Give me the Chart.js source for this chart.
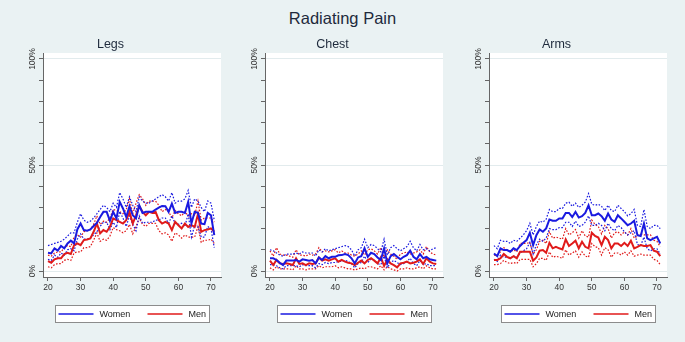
<!DOCTYPE html>
<html><head><meta charset="utf-8">
<script src="https://cdn.jsdelivr.net/npm/chart.js@4.4.0/dist/chart.umd.min.js"></script>
<style>
html,body{margin:0;padding:0;background:#eaf2f3;}
body{width:685px;height:342px;position:relative;overflow:hidden;font-family:"Liberation Sans",Arial,sans-serif;}
#title{position:absolute;left:0;top:8px;width:685px;text-align:center;font-size:16.5px;color:#1e2a3c;line-height:20px;}
.panel{position:absolute;top:0;width:226px;height:342px;}
</style></head><body>
<div id="title">Radiating Pain</div>
<div class="panel" style="left:0px"><canvas id="c0" width="226" height="342"></canvas></div>
<div class="panel" style="left:222px"><canvas id="c1" width="226" height="342"></canvas></div>
<div class="panel" style="left:446px"><canvas id="c2" width="226" height="342"></canvas></div>
<script>
const ages = [20,21,22,23,24,25,26,27,28,29,30,31,32,33,34,35,36,37,38,39,40,41,42,43,44,45,46,47,48,49,50,51,52,53,54,55,56,57,58,59,60,61,62,63,64,65,66,67,68,69,70,71];
const panelTitles = ['Legs','Chest','Arms'];
const seriesLabels = ['Women','Men'];
const xTickValues = [20,30,40,50,60,70];
const yTickValues = [0,10,20,30,40,50,60,70,80,90,100];
const yLabelValues = [0,50,100];

const legsWomen   = [8.6,8.3,10.7,9.6,11.8,10.7,13,14.3,13,19.6, 22.4,19.3,19,19.6,21.2,22.7,25.5,27.9,27.9,23.7, 27.9,24.8,32.6,29.5,25.5,30.6,26.3,24.8,31,27.4, 27.9,27.9,27.9,29,29.9,30.7,30.6,27.9,31.8,27.4, 27.9,27.9,27.4,32.6,22.4,27.9,27.4,22.4,22.1,27.4, 26.3,16.9];
const legsWomenHi = [12,12.5,13,13.5,14,15,16.5,18,18,23, 27,24,23,23.5,25,27,29,31,30,28, 32,30,37,34,30,35,31,28,35,33, 32,32,33,34,35,36,35,33,37,32, 33,33,34,38,30,34,33,30,28,33, 32,24];
const legsWomenLo = [5.5,5,7.5,6.5,8.5,7.5,10,10.5,9.5,15, 17.5,15,15,15.5,17,18.5,21,23,23,19.5, 23,20.5,28,25,21,26,22,19,26,22.5, 23,23,23,24,24,25,25,22.5,26,22.5, 22,22.5,21,27,16,21.5,21,16,16,21, 20,11];
const legsMen     = [4.7,3.9,5.5,6,6,8,8.6,8,12.2,13, 12.2,14.6,14.9,15.4,18.5,22.4,17.7,19.3,18.5,20.8, 24.8,24,23.2,22.4,24,27.9,22.4,26.3,30.6,27.9, 26.3,27.9,27.4,27.9,24,22.4,23.2,22.4,19.3,23.2, 21.6,20.1,22.4,20.8,21.6,20.8,26.8,18.5,19.3,19.6, 20.1,18.5];
const legsMenHi   = [7.5,7,8.5,9,9,11,12,11.5,16,17, 16,18.5,19,19.5,22,26,22,23.5,23,25, 29,28.5,28,27,29,34,27,32,36,34, 31,33,33,33,31,28,29,28,25,28.5, 27,26,28,26,27,26,33,24,25,25, 25,23];
const legsMenLo   = [2,1.5,3,3.5,3.5,5,5.5,5,8.5,9, 9,11,11,11.5,14.5,18,14,15,14.5,16.5, 20.5,19.5,19,18,19,22,17.5,21,25,22, 21,22.5,22.5,22.5,19,17.5,18,17,14,18, 17,15.5,17,16,16,16,21,13.5,14.5,14.5, 15,13];

const chestWomen   = [6,6,5.2,3.9,2.8,4.9,4.9,4.9,5.2,4.4, 5.5,5.2,4.9,5.2,3.6,6.4,5.2,7,6,6.7, 6.7,7.4,7.5,8,7.5,6,3.6,6.4,7,10.7, 6.7,8.6,8,6.4,5.2,10.7,3.6,7,8,6.7, 5.5,6.7,7.5,9.6,6.7,5.5,8,6,6.7,5.5, 5.2,4.9];
const chestWomenHi = [10,9.5,8.5,7.5,7,8,8,8,8.5,8, 9,8.5,8.5,8.5,7,10,9,10.5,9.5,10, 10.5,11,11.5,12,11.5,10,7,10,11,15, 11,12.5,12,10.5,9,15,7.5,11,12,10.5, 9.5,10.5,11.5,14,11,9.5,12.5,10,10.5,9.5, 10.5,11];
const chestWomenLo = [3,3,2.5,1.5,1,2.5,2.5,2.5,2.5,2, 3,2.5,2.5,2.5,1.5,3.5,3,4,3.5,4, 4,4.5,4.5,5,4.5,3.5,1.5,3.5,4,7, 4,5.5,5,3.5,3,7,1.5,4,5,4, 3,3.5,4.5,6,3.5,2.5,5,3,3.5,2.5, 2.5,2.5];
const chestMen     = [4.9,2.8,5.2,3.6,3.3,3.6,3.3,2.8,6,3.3, 3.6,2.8,3.6,3.3,3.6,6.4,4.9,5.5,4.9,5.5, 6,4.4,5.2,4.4,3.9,3.6,2.8,3.9,4.9,3.6, 5.2,6,4.9,3.6,6.4,2.4,5.5,3.6,2.8,1.7, 3.6,3.9,4.4,3.6,3.9,4.4,5.5,3.3,6,4.4, 3.6,3.3];
const chestMenHi   = [9.5,7,11,8,7.5,7.5,7,6.5,10,7.5, 7.5,7,8,7.5,8,11,9,9.5,9,9.5, 10,8.5,9.5,8.5,8.5,7.5,7,8,9.5,7.5, 10,10.5,9.5,8,11,6.5,10,8,7,5.5, 8,8.5,9,8,8.5,9,10,8,11.5,9, 8,7.5];
const chestMenLo   = [1.5,0.5,2,1,1,1,1,0.5,2.5,1, 1,0.5,1,1,1,2.5,1.5,2,2,2, 2.5,1.5,2,1.5,1,1,0.5,1,1.5,1, 2,2,1.5,1,2.5,0.5,2,1,0.5,0, 1,1,1.5,1,1,1.5,2,1,2.5,1.5, 1,1];

const armsWomen   = [8.3,7,10.7,9.9,9.9,9.1,10.7,9.9,11.8,13.3, 14.6,18,12.2,16.9,19.6,18.5,20.1,24.3,23.7,23.7, 24.8,24.8,27.4,27.4,25.5,27.9,25.2,25.9,27.4,31, 26.3,26.3,27.1,25.9,23.7,27.1,24.3,23.2,26.3,24.8, 23.2,21.6,22.4,23.7,16.9,16.5,22.4,15.4,14.6,15.4, 16.1,13];
const armsWomenHi = [12,10.5,14.5,14,14,13,14.5,14,15.5,17, 19,22.5,17,21,23.5,23,24.5,29,28,28, 29.5,29.5,32,32.5,30.5,32,30,31,32.5,36.5, 31.5,31,31.5,30.5,28.5,31,28.5,28,31,29.5, 28,26,27,29,21.5,21,29,21,20,21.5, 21.5,20];
const armsWomenLo = [5.5,4.5,7.5,6.5,6.5,6,7,6.5,8.5,9.5, 10.5,13.5,8,12.5,15,14,15.5,20,19.5,19.5, 20.5,20.5,23,23,21,23.5,21,21.5,23,26, 21.5,21.5,22.5,21.5,19,22.5,20,19,21.5,20.5, 18.5,17,18,19,12.5,12,16,10.5,9.5,10.5, 10.5,8];
const armsMen     = [5.2,5.2,6,8,6.7,6,7,6,9.1,9.1, 9.1,9.1,4.9,6.4,9.6,9.9,8.6,13.3,10.7,11.4, 10.7,10.2,14.9,11.8,13,14.3,10.7,13.8,11.4,10.7, 18,16.5,15.8,12.2,16.1,14.6,10.7,13,13,11.8, 13.3,11.8,14.3,10.7,11.4,12.2,11.8,11.8,12.2,9.6, 9.1,7];
const armsMenHi   = [7.5,7.5,9,11,10,9,10,9,13,13, 13,13.5,8,10,14,14.5,13,18.5,15.5,16, 15.5,15,20,17,18,19.5,15.5,19,16.5,16, 24,22,21,17.5,21.5,20,15.5,18,18.5,17, 18.5,17,20,15.5,16.5,17.5,17,17,17,14.5, 14,11.5];
const armsMenLo   = [3,3,3.5,5,4,3.5,4,3.5,5.5,5.5, 5.5,5.5,2,3.5,6,6,5,9,6.5,7, 6.5,6,10,7.5,8.5,9.5,6.5,9,7,6.5, 13,11.5,11,7.5,11,10,6.5,8.5,8.5,7.5, 9,7.5,9.5,7,7.5,8,7.5,7.5,7.5,5.5, 5,3];

const BLUE = '#1a1ae0';
const RED = '#e01a1a';
const FONT = '"Liberation Sans", Arial, sans-serif';
Chart.defaults.font.family = FONT;
Chart.defaults.animation = false;

function pts(vals){ return ages.map((a,i)=>({x:a, y:vals[i]})); }

const plotBg = {
  id:'plotBg',
  beforeDraw(chart){
    const {ctx, chartArea:a} = chart;
    ctx.save(); ctx.fillStyle = '#ffffff';
    ctx.fillRect(a.left, a.top, a.right-a.left, a.bottom-a.top);
    ctx.restore();
  }
};

const boxLegend = {
  id:'boxLegend',
  afterDraw(chart){
    const {ctx, chartArea:a} = chart;
    const cx = (a.left + a.right)/2;
    const bw = 154, bh = 17;
    const bx = Math.round(cx - bw/2) + 0.5, by = Math.round(a.bottom) + 28.5;
    ctx.save();
    ctx.fillStyle = '#ffffff'; ctx.fillRect(bx, by, bw, bh);
    ctx.strokeStyle = '#8c8c8c'; ctx.lineWidth = 1; ctx.strokeRect(bx, by, bw, bh);
    const items = chart.data.datasets.filter(d => d.legendItem);
    const offsets = [3, 92];
    ctx.font = '9px ' + FONT;
    ctx.textBaseline = 'middle';
    items.forEach((d,i)=>{
      const x0 = bx + offsets[i], y = by + bh/2;
      ctx.strokeStyle = d.borderColor; ctx.lineWidth = 1.5;
      ctx.beginPath(); ctx.moveTo(x0, y); ctx.lineTo(x0+35, y); ctx.stroke();
      ctx.fillStyle = '#222'; ctx.fillText(d.label, x0+41, y+0.5);
    });
    ctx.restore();
  }
};

function makeChart(id, title, w, wLo, wHi, m, mLo, mHi){
  const solid = (label, vals, color) => ({label, data:pts(vals), borderColor:color, backgroundColor:color, borderWidth:2, pointRadius:0, tension:0, legendItem:true});
  const dot = (label, vals, color) => ({label, data:pts(vals), borderColor:color, backgroundColor:color, borderWidth:1.2, borderDash:[1.6,1.6], pointRadius:0, tension:0});
  new Chart(document.getElementById(id), {
    type:'line',
    data:{datasets:[
      solid(seriesLabels[0], w, BLUE),
      solid(seriesLabels[1], m, RED),
      dot(seriesLabels[0]+' upper', wHi, BLUE),
      dot(seriesLabels[0]+' lower', wLo, BLUE),
      dot(seriesLabels[1]+' upper', mHi, RED),
      dot(seriesLabels[1]+' lower', mLo, RED)
    ]},
    options:{
      responsive:false,
      animation:false,
      layout:{padding:{top:37.5, right:5, bottom:0, left:0}},
      plugins:{
        legend:{display:false},
        tooltip:{enabled:false},
        title:{display:true, text:title, color:'#1e2a3c', font:{size:12.5, weight:'normal', family:FONT}, padding:{top:0, bottom:0.5}}
      },
      scales:{
        x:{
          type:'linear', min:18.47, max:73.07,
          afterBuildTicks:s=>{ s.ticks = xTickValues.map(v=>({value:v})); },
          afterFit:s=>{ s.height = 65; },
          ticks:{color:'#333', font:{size:8.5}, padding:2, maxRotation:0, autoSkip:false, callback:v=>String(v)},
          grid:{drawOnChartArea:false, tickLength:4, tickColor:'#666'},
          border:{display:true, color:'#666', width:1}
        },
        y:{
          min:-2.83, max:102.83,
          afterBuildTicks:s=>{ s.ticks = yTickValues.map(v=>({value:v})); },
          afterFit:s=>{ s.width = 43; },
          ticks:{color:'#333', font:{size:8.5}, autoSkip:false, minRotation:90, maxRotation:90, crossAlign:'center', padding:-5,
            callback:v=> yLabelValues.includes(v) ? v + '%' : ''},
          grid:{drawOnChartArea:true, tickLength:4, tickColor:'#666',
            color:c=> (c.tick && yLabelValues.includes(c.tick.value)) ? '#e2ebed' : 'rgba(0,0,0,0)'},
          border:{display:true, color:'#666', width:1}
        }
      }
    },
    plugins:[plotBg, boxLegend]
  });
}

makeChart('c0', panelTitles[0], legsWomen, legsWomenLo, legsWomenHi, legsMen, legsMenLo, legsMenHi);
makeChart('c1', panelTitles[1], chestWomen, chestWomenLo, chestWomenHi, chestMen, chestMenLo, chestMenHi);
makeChart('c2', panelTitles[2], armsWomen, armsWomenLo, armsWomenHi, armsMen, armsMenLo, armsMenHi);
</script>
</body></html>
